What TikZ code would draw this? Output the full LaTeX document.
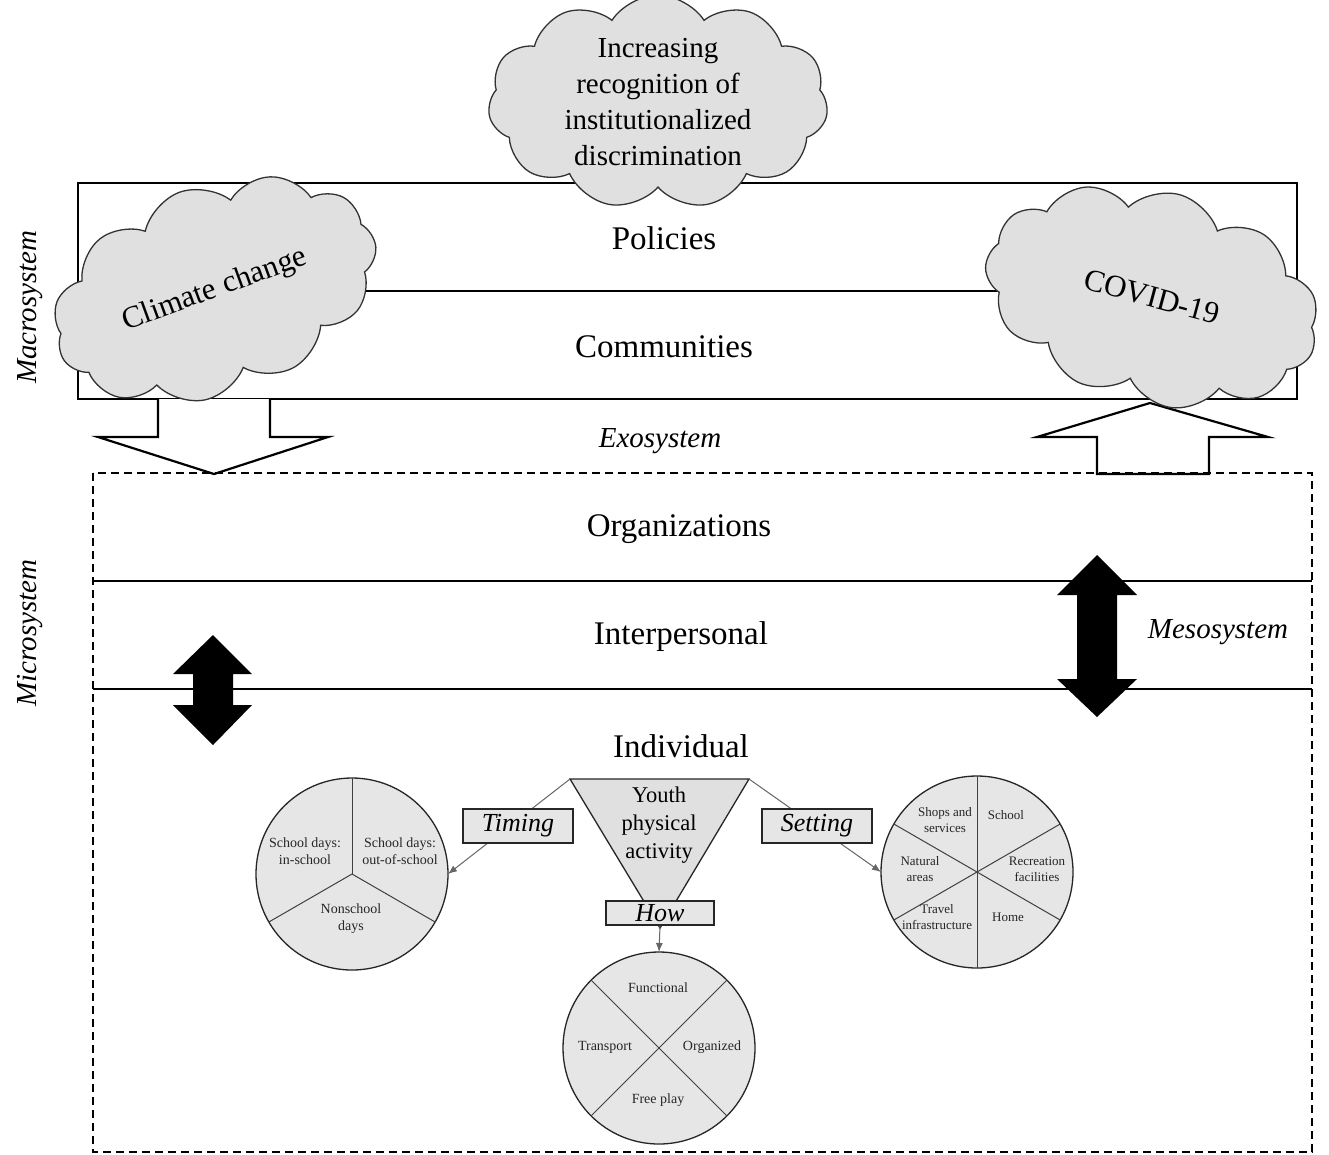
\documentclass[tikz,border=0pt]{standalone}
\usepackage{fontspec}
\setmainfont{Liberation Serif}
\usetikzlibrary{shapes.symbols, arrows.meta}
\definecolor{cloudgray}{HTML}{E0E0E0}
\definecolor{piegray}{HTML}{E6E6E6}
\begin{document}
\begin{tikzpicture}[x=1pt,y=-1pt,
  frame/.style={line width=2.2pt},
  cloudnode/.style={cloud, cloud puffs=11, cloud puff arc=115, cloud ignores aspect, draw=black!80, line width=1.3pt, fill=cloudgray, align=center, inner sep=0pt},
  bigtext/.style={font=\fontsize{33}{40}\selectfont},
  systext/.style={font=\fontsize{29}{34}\selectfont\itshape},
  pie/.style={circle, draw=black!85, line width=1.3pt, fill=piegray, minimum size=192pt, inner sep=0pt, outer sep=0pt},
  divider/.style={draw=black!75, line width=1pt},
  pielabel/.style={font=\fontsize{14}{17}\selectfont, align=center, text=black!85},
  tagbox/.style={draw=black!85, line width=1.3pt, fill=piegray, font=\fontsize{26}{30}\selectfont\itshape, minimum width=110pt, minimum height=34pt, inner sep=0pt},
  link/.style={draw=black!60, line width=1pt, -{Latex[length=9pt,width=7pt]}},
  blockarrow/.style={draw=black, line width=2.2pt, fill=white, line join=miter},
]
\useasboundingbox (0,0) rectangle (1329,1154);
\fill[white] (0,0) rectangle (1329,1154);

% macro layers
\draw[frame] (78,183) rectangle (1297,399);
\draw[frame] (78,291) -- (1297,291);

% exosystem block arrows
\draw[blockarrow] (158,399) -- (158,437) -- (98,437) -- (214,474) -- (328,437) -- (270,437) -- (270,399);
\draw[blockarrow] (1097,474) -- (1097,437) -- (1037,437) -- (1150,403) -- (1268,437) -- (1209,437) -- (1209,474) -- cycle;

% clouds
\node[cloudnode, minimum width=340pt, minimum height=205pt, font=\fontsize{29}{36}\selectfont] (disc) at (658,102) {Increasing\\recognition of\\institutionalized\\discrimination};
\node[cloudnode, minimum width=335pt, minimum height=208pt, rotate=20, font=\fontsize{31}{36}\selectfont] (climate) at (215,290) {Climate change};
\node[cloudnode, minimum width=340pt, minimum height=212pt, rotate=-15, font=\fontsize{31}{36}\selectfont] (covid) at (1152,297) {COVID-19};

\node[bigtext] (pol) at (664,238) {Policies};
\node[bigtext] (com) at (664,347) {Communities};
\node[systext] (exo) at (660,441) {Exosystem};
\node[systext, rotate=90] (macro) at (30,307) {Macrosystem};
\node[systext, rotate=90] (micro) at (30,633) {Microsystem};

% microsystem
\draw[frame, dash pattern=on 8pt off 5pt] (93,473) rectangle (1312,1152);
\draw[frame] (93,581) -- (1312,581);
\draw[frame] (93,689) -- (1312,689);
\node[bigtext] (org) at (679,529) {Organizations};
\node[bigtext] (inter) at (681,637) {Interpersonal};
\node[bigtext] (indiv) at (681,746) {Individual};
\node[systext] (meso) at (1218,632) {Mesosystem};

% mesosystem double arrows
\fill (1097,555) -- (1137,595) -- (1117,595) -- (1117,679) -- (1137,679) -- (1097,717) -- (1057,679) -- (1077,679) -- (1077,595) -- (1057,595) -- cycle;
\fill (213,635) -- (252,674) -- (233,674) -- (233,705) -- (252,705) -- (213,745) -- (173,705) -- (193,705) -- (193,674) -- (173,674) -- cycle;

% youth physical activity
\coordinate (tl) at (570,779);
\coordinate (tr) at (749,779);
\coordinate (tb) at (660,928);
\filldraw[draw=black!85, fill=cloudgray, line width=1.3pt] (tl) -- (tr) -- (tb) -- cycle;
\node[font=\fontsize{22.5}{28}\selectfont, align=center] (youth) at (659,825) {Youth\\physical\\activity};

\node[pie] (tc) at (352,874) {};
\node[pie] (hc) at (659,1048) {};
\node[pie] (sc) at (977,872) {};

\draw[divider] (tc.center) -- (tc.90);
\draw[divider] (tc.center) -- (tc.210);
\draw[divider] (tc.center) -- (tc.330);
\draw[divider] (hc.45) -- (hc.225);
\draw[divider] (hc.135) -- (hc.315);
\draw[divider] (sc.90) -- (sc.270);
\draw[divider] (sc.30) -- (sc.210);
\draw[divider] (sc.150) -- (sc.330);

\draw[link] (tl) -- (tc.east);
\draw[link] (tr) -- (sc.west);
\node[tagbox] (timing) at (518,826) {Timing};
\node[tagbox] (setting) at (817,826) {Setting};
\node[tagbox, minimum width=108pt, minimum height=24pt] (how) at (660,913) {How};
\draw[link] (how.south) -- (hc.north);

\node[pielabel] (t1) at (305,851) {School days:\\in-school};
\node[pielabel] (t2) at (400,851) {School days:\\out-of-school};
\node[pielabel] (t3) at (351,919) {Nonschool\\days};

\node[pielabel] (h1) at (658,988) {Functional};
\node[pielabel] (h2) at (605,1047) {Transport};
\node[pielabel] (h3) at (712,1047) {Organized};
\node[pielabel] (h4) at (658,1100) {Free play};

\node[pielabel, font=\fontsize{13}{16}\selectfont] (s1) at (945,820) {Shops and\\services};
\node[pielabel, font=\fontsize{13}{16}\selectfont] (s2) at (1006,815) {School};
\node[pielabel, font=\fontsize{13}{16}\selectfont] (s3) at (920,869) {Natural\\areas};
\node[pielabel, font=\fontsize{13}{16}\selectfont] (s4) at (1037,869) {Recreation\\facilities};
\node[pielabel, font=\fontsize{13}{16}\selectfont] (s5) at (937,917) {Travel\\infrastructure};
\node[pielabel, font=\fontsize{13}{16}\selectfont] (s6) at (1008,917) {Home};
\end{tikzpicture}
\end{document}
